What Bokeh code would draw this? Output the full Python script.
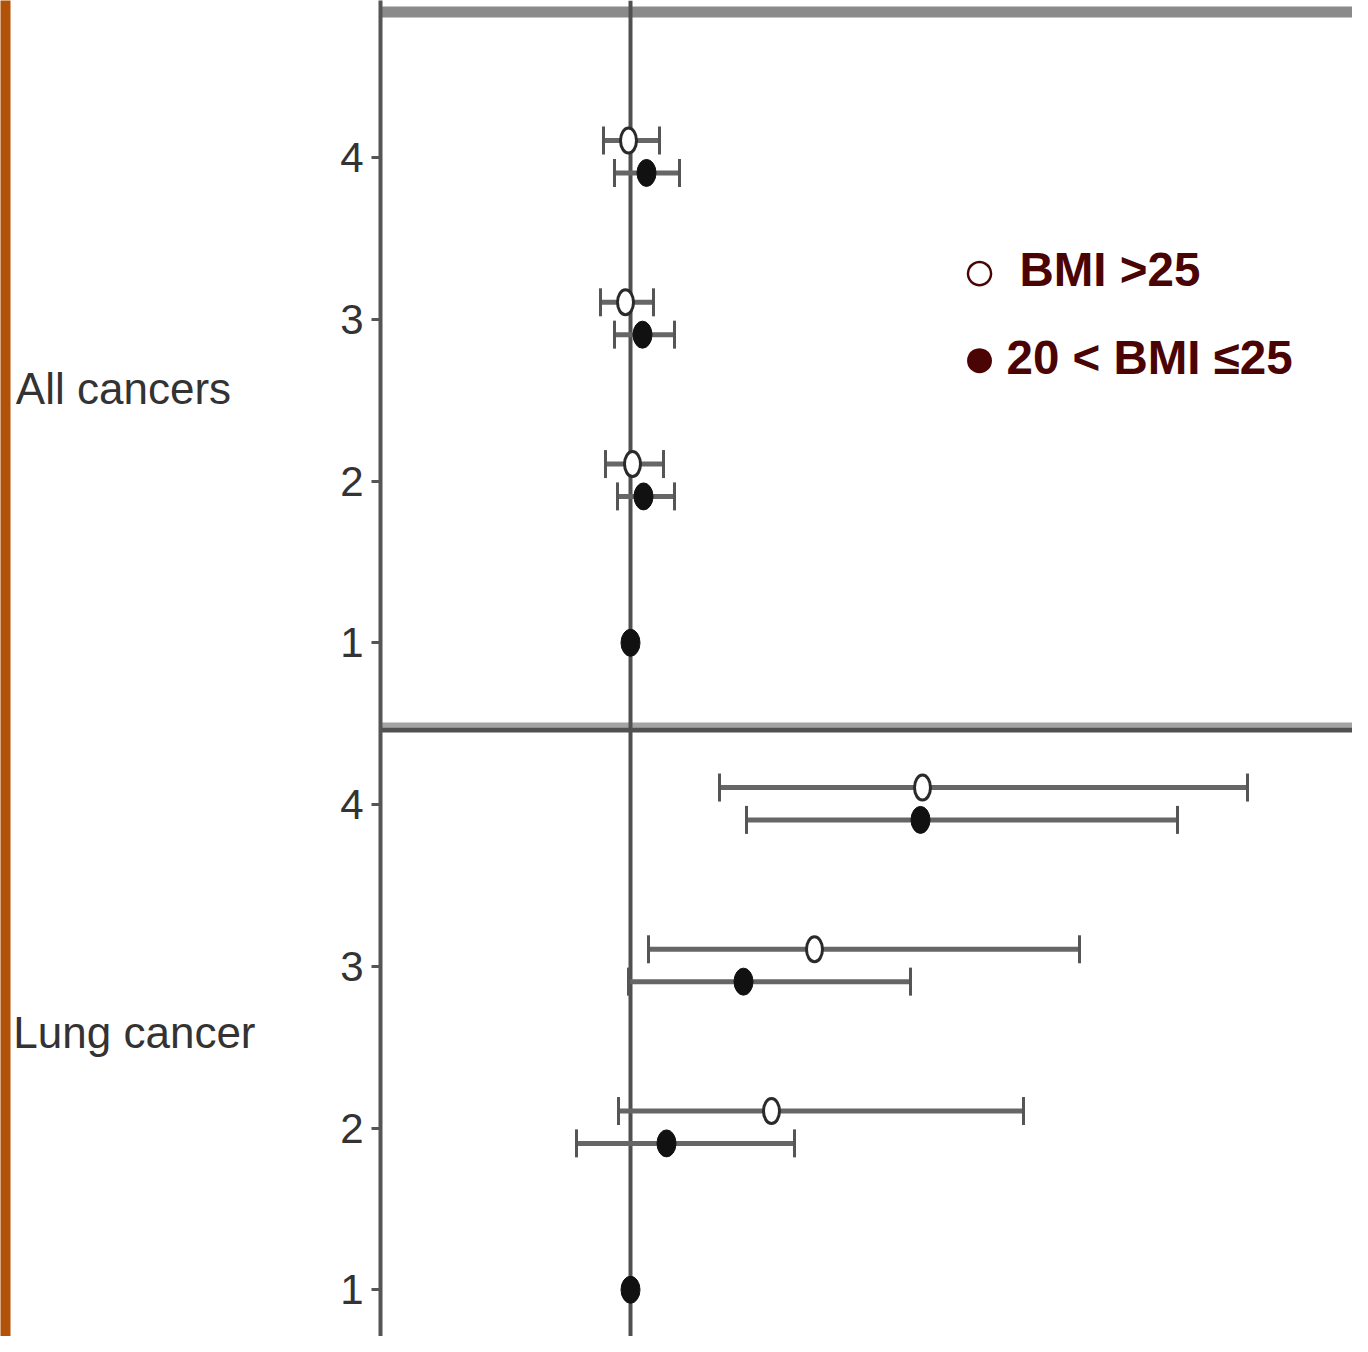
from bokeh.plotting import figure
from bokeh.models import (Range1d, FixedTicker, Span, Whisker, TeeHead,
                          ColumnDataSource, Label, LinearAxis)
from bokeh.embed import file_html
from bokeh.resources import INLINE

# ---------------- data (hazard ratios) ----------------
levels = [4, 3, 2]            # categories 4,3,2 (1 = reference)
reference_level = 1
reference_hr = 1.0

all_open_hr = [0.99, 0.975, 1.01]
all_open_lo = [0.865, 0.85, 0.875]
all_open_hi = [1.145, 1.115, 1.165]
all_fill_hr = [1.08, 1.06, 1.065]
all_fill_lo = [0.92, 0.92, 0.935]
all_fill_hi = [1.245, 1.22, 1.22]

lung_open_hr = [2.46, 1.92, 1.705]
lung_open_lo = [1.445, 1.09, 0.94]
lung_open_hi = [4.085, 3.245, 2.965]
lung_fill_hr = [2.45, 1.565, 1.18]
lung_fill_lo = [1.58, 0.99, 0.73]
lung_fill_hi = [3.735, 2.40, 1.82]

panel_names = ["All cancers", "Lung cancer"]
tick_labels = ["1", "2", "3", "4"]
legend_texts = ["BMI >25", "20 < BMI \u226425"]
legend_symbols = ["\u25cb", "\u25cf"]

# ---------------- layout constants ----------------
PANEL_SHIFT = {"All cancers": 4, "Lung cancer": 0}
PANEL_LABEL_Y = {"All cancers": 6.57, "Lung cancer": 2.59}
PANEL_LABEL_PAD = {"All cancers": "\u00a0\u00a0", "Lung cancer": ""}  # left-align look
OPEN_DY = 0.105
FILL_DY = -0.095

p = figure(width=1352, height=1336,
           x_range=Range1d(-0.25, 4.61), y_range=Range1d(0.711, 8.971),
           x_axis_type=None, output_backend="svg", toolbar_location=None)
p.min_border_left = 380
p.min_border_top = 0
p.min_border_bottom = 0
p.min_border_right = 0
p.outline_line_color = None
p.grid.visible = False
p.background_fill_color = "white"
p.border_fill_color = "white"

# inner y axis with category ticks
yax = p.yaxis[0]
yax.ticker = FixedTicker(ticks=[lv + s for s in (0, 4) for lv in range(1, 5)])
yax.major_label_overrides = {lv + s: tick_labels[lv - 1] for s in (0, 4) for lv in range(1, 5)}
yax.minor_tick_line_color = None
yax.axis_line_color = "#555555"
yax.axis_line_width = 4
yax.major_tick_line_color = "#555555"
yax.major_tick_line_width = 3
yax.major_tick_out = 9
yax.major_tick_in = 0
yax.major_label_standoff = 8
yax.major_label_text_font = "Liberation Sans"
yax.major_label_text_font_size = "42px"
yax.major_label_text_color = "#333333"

# panel-name axis
name_ticks = [PANEL_LABEL_Y[n] for n in panel_names]
nax = LinearAxis(ticker=FixedTicker(ticks=name_ticks),
                 major_label_overrides={PANEL_LABEL_Y[n]: n + PANEL_LABEL_PAD[n] for n in panel_names},
                 axis_line_color=None, major_tick_line_color=None,
                 minor_tick_line_color=None, major_tick_out=0, major_tick_in=0,
                 major_label_standoff=82, major_label_text_font="Liberation Sans",
                 major_label_text_font_size="44px", major_label_text_color="#333333")
p.add_layout(nax, "left")

# outer decorative strip (axis with only a background)
sax = LinearAxis(ticker=FixedTicker(ticks=[1]), major_label_overrides={1: ""},
                 axis_line_color=None, major_tick_line_color=None,
                 minor_tick_line_color=None, major_tick_out=10, major_tick_in=0,
                 major_label_standoff=0, major_label_text_font_size="1px",
                 background_fill_color="#b25208", background_fill_alpha=1.0)
p.add_layout(sax, "left")

# frame decorations
p.add_layout(Span(location=8.90, dimension="width", line_color="#8a8a8a",
                  line_width=11, level="underlay"))
p.add_layout(Span(location=4.491, dimension="width", line_color="#a4a4a4",
                  line_width=5, level="underlay"))
p.add_layout(Span(location=4.461, dimension="width", line_color="#505050",
                  line_width=5, level="underlay"))
p.add_layout(Span(location=reference_hr, dimension="height", line_color="#505050",
                  line_width=4, level="underlay"))

def series(name, hr, lo, hi, dy):
    s = PANEL_SHIFT[name]
    return ColumnDataSource(dict(x=hr, lo=lo, hi=hi, y=[lv + s + dy for lv in levels]))

sources_open = [series("All cancers", all_open_hr, all_open_lo, all_open_hi, OPEN_DY),
                series("Lung cancer", lung_open_hr, lung_open_lo, lung_open_hi, OPEN_DY)]
sources_fill = [series("All cancers", all_fill_hr, all_fill_lo, all_fill_hi, FILL_DY),
                series("Lung cancer", lung_fill_hr, lung_fill_lo, lung_fill_hi, FILL_DY)]

for src in sources_open + sources_fill:
    p.add_layout(Whisker(source=src, base="y", lower="lo", upper="hi", dimension="width",
                         line_color="#666666", line_width=5, level="underlay",
                         lower_head=TeeHead(size=28, line_width=3, line_color="#555555"),
                         upper_head=TeeHead(size=28, line_width=3, line_color="#555555")))

for src in sources_open:
    p.ellipse(x="x", y="y", width=16, height=25, width_units="screen", height_units="screen",
              source=src, fill_color="white", line_color="#2a2a2a", line_width=3)
for src in sources_fill:
    p.ellipse(x="x", y="y", width=19, height=27, width_units="screen", height_units="screen",
              source=src, fill_color="#111111", line_color="#111111", line_width=1)

ref_src = ColumnDataSource(dict(x=[reference_hr, reference_hr],
                                y=[reference_level + PANEL_SHIFT[n] for n in panel_names]))
p.ellipse(x="x", y="y", width=19, height=27, width_units="screen", height_units="screen",
          source=ref_src, fill_color="#111111", line_color="#111111", line_width=1)

# legend (symbols + texts)
LEG_SYM_X = 2.745
LEG_SYM_Y = [7.299, 6.771]
LEG_TXT_X = [2.945, 2.88]
LEG_TXT_Y = [7.308, 6.764]
for i in range(2):
    p.add_layout(Label(x=LEG_SYM_X, y=LEG_SYM_Y[i], text=legend_symbols[i],
                       text_font="Liberation Sans", text_font_size="58px",
                       text_color="#4a0404", text_align="center", text_baseline="middle"))
    p.add_layout(Label(x=LEG_TXT_X[i], y=LEG_TXT_Y[i], text=legend_texts[i],
                       text_font="Liberation Sans", text_font_style="bold",
                       text_font_size="47.5px", text_color="#4a0404",
                       text_baseline="middle"))

open("out.html", "w").write(file_html(p, INLINE))
